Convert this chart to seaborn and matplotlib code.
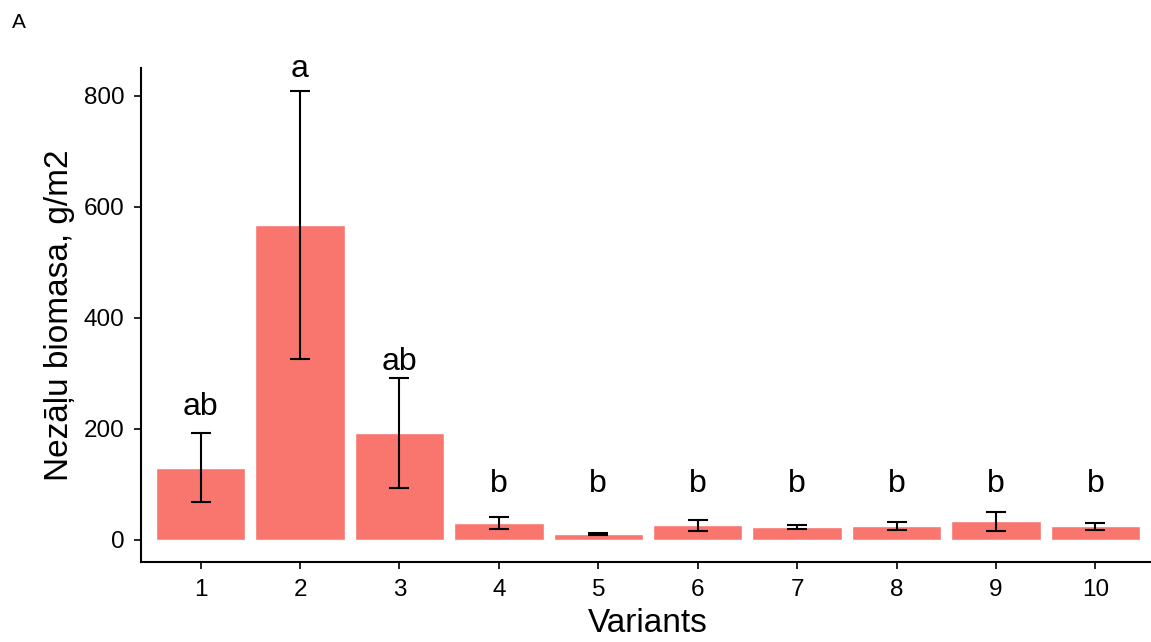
import numpy as np
import pandas as pd
import seaborn as sns
import matplotlib.pyplot as plt

# values
variants = ['1', '2', '3', '4', '5', '6', '7', '8', '9', '10']
biomass = [130, 567, 193, 30, 11, 26, 23, 25, 33, 24]
se = [62, 241, 99, 11, 2, 10, 4, 7, 17, 6]
letters = ['ab', 'a', 'ab', 'b', 'b', 'b', 'b', 'b', 'b', 'b']
letter_y = [225, 833, 306, 86, 86, 86, 86, 86, 86, 86]

df = pd.DataFrame({'Variants': variants, 'biomass': biomass, 'se': se})

sns.set_style('ticks')
plt.rcParams['font.family'] = ['Liberation Sans', 'DejaVu Sans']

fig = plt.figure(figsize=(11.51, 6.42), dpi=100)
ax = fig.add_axes([141 / 1151, 80 / 642, 1014 / 1151, 494 / 642])

sns.barplot(data=df, x='Variants', y='biomass', color='#F8766D',
            saturation=1, width=0.9, ax=ax)
ax.errorbar(np.arange(len(variants)), df['biomass'], yerr=df['se'],
            fmt='none', ecolor='black', elinewidth=1.5, capsize=7,
            capthick=1.5)

for i, (lab, yy) in enumerate(zip(letters, letter_y)):
    ax.text(i, yy, lab, ha='center', va='baseline', fontsize=23, color='black')

ax.set_xlim(-0.6, 9.6)
ax.set_ylim(-40, 850)
ax.set_yticks([0, 200, 400, 600, 800])
ax.set_xlabel('Variants', fontsize=24, color='black', labelpad=5)
ax.set_ylabel('Nezāļu biomasa, g/m2', fontsize=24, color='black', labelpad=6)
ax.tick_params(axis='both', labelsize=17.5, colors='black', length=5,
               width=1.2, pad=7)
for s in ['left', 'bottom']:
    ax.spines[s].set_linewidth(1.5)
    ax.spines[s].set_color('black')
sns.despine(ax=ax)

fig.text(12 / 1151, 1 - 28 / 642, 'A', fontsize=15, color='black')

fig.savefig('out.png', dpi=100)
